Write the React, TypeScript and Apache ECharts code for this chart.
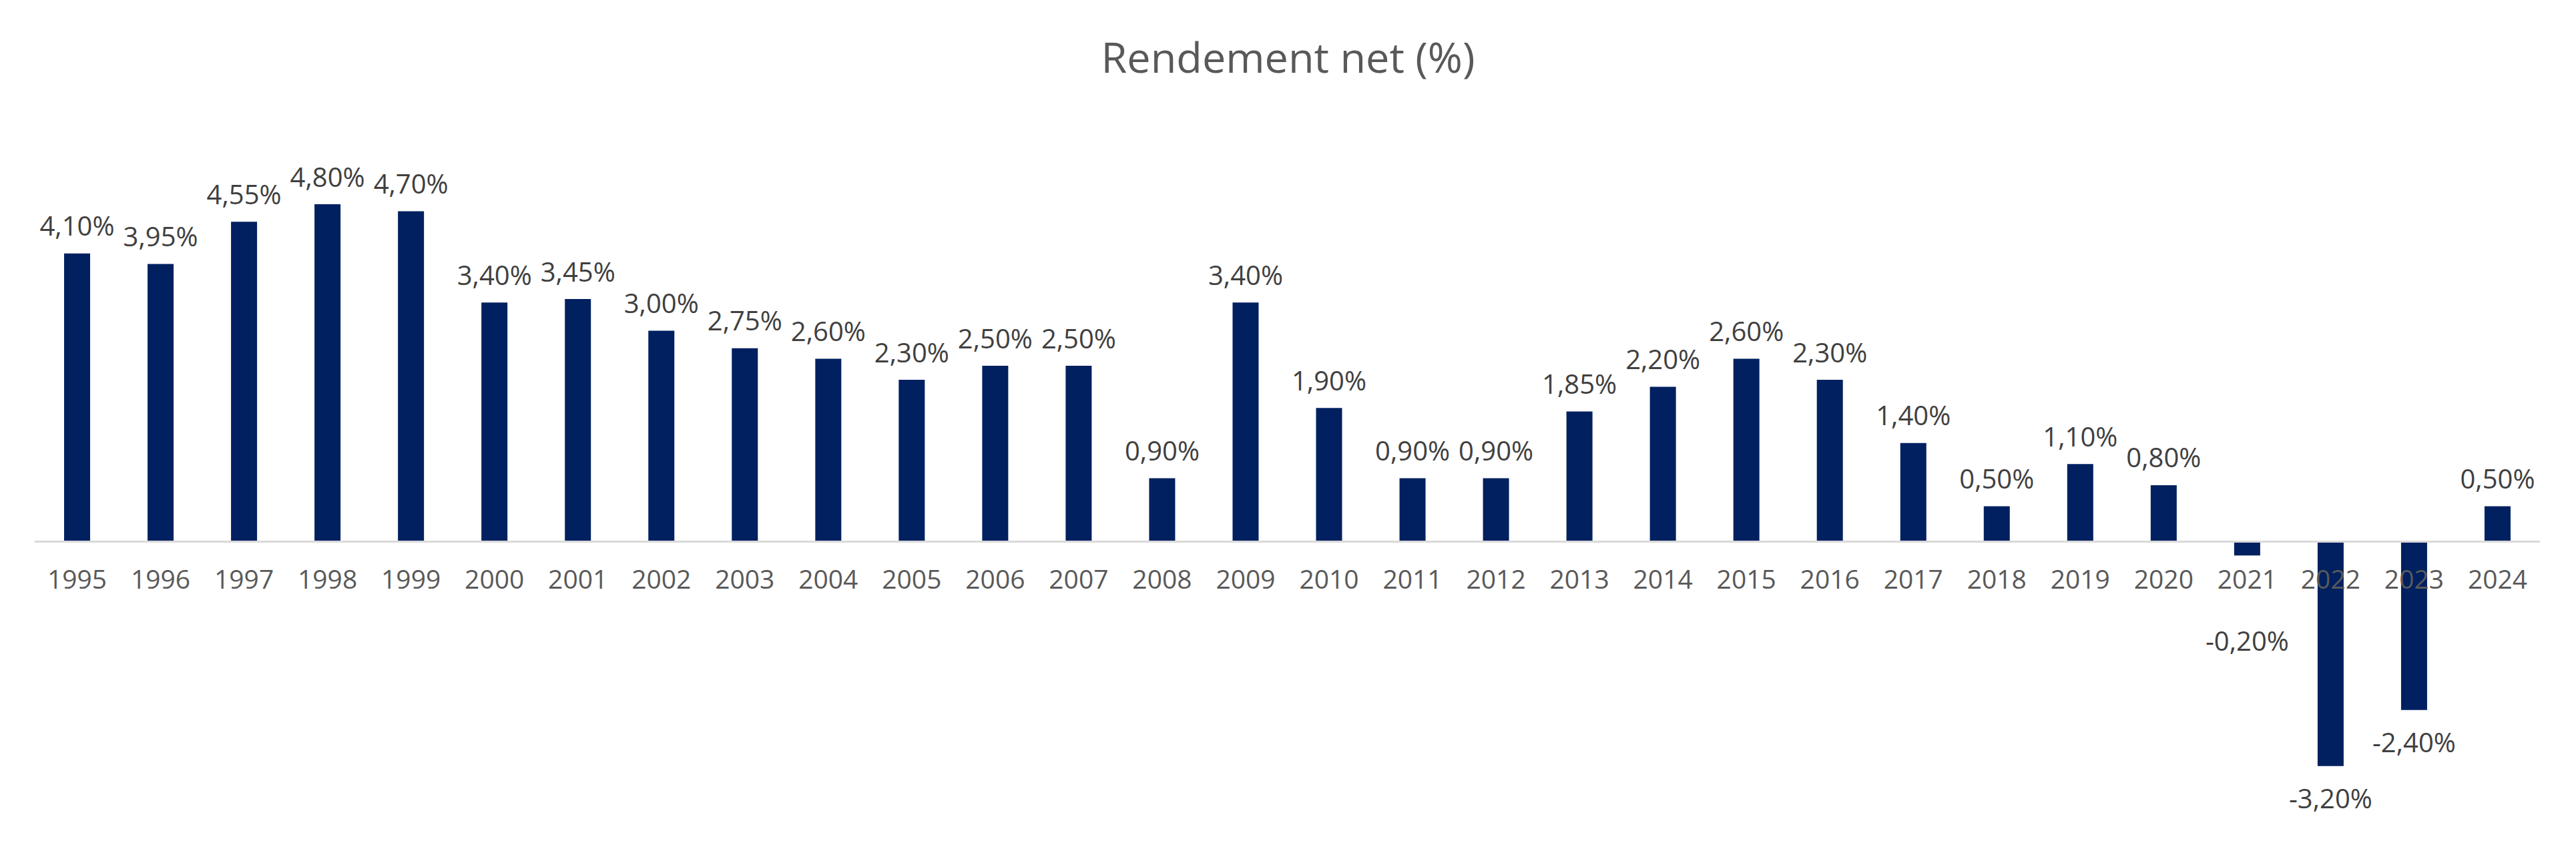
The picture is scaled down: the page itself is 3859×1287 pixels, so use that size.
import React, { useEffect, useRef } from "react";
import * as echarts from "echarts";

const title = "Rendement net (%)";
const years = [
  "1995", "1996", "1997", "1998", "1999", "2000", "2001", "2002", "2003", "2004",
  "2005", "2006", "2007", "2008", "2009", "2010", "2011", "2012", "2013", "2014",
  "2015", "2016", "2017", "2018", "2019", "2020", "2021", "2022", "2023", "2024",
];
const rendement = [
  4.1, 3.95, 4.55, 4.8, 4.7, 3.4, 3.45, 3.0, 2.75, 2.6,
  2.3, 2.5, 2.5, 0.9, 3.4, 1.9, 0.9, 0.9, 1.85, 2.2,
  2.6, 2.3, 1.4, 0.5, 1.1, 0.8, -0.2, -3.2, -2.4, 0.5,
];
// label moved down in the original to clear the axis label
const shiftedLabelYears = ["2021"];

const FONT = "Open Sans";
const Y_MIN = -4;
const Y_MAX = 5;
const GRID_TOP = 285;
const GRID_HEIGHT = 947;

const fmt = (v: number) => v.toFixed(2).replace(".", ",") + "%";

export default function App() {
  const ref = useRef<HTMLDivElement>(null);
  useEffect(() => {
    if (!ref.current) return;
    const chart = echarts.init(ref.current, undefined, { renderer: "svg" });
    const data = rendement.map((v, i) => {
      const item: any = { value: v };
      if (v < 0) {
        item.label = { position: "bottom", distance: 28 };
        if (shiftedLabelYears.includes(years[i])) {
          item.label.offset = [0, 79];
        }
      }
      return item;
    });
    // place the category axis at the zero line (labels included)
    const zeroFromBottom = (-Y_MIN / (Y_MAX - Y_MIN)) * GRID_HEIGHT;
    chart.setOption({
      animation: false,
      backgroundColor: "#ffffff",
      title: {
        text: title,
        left: "center",
        top: 48,
        textStyle: {
          fontFamily: FONT,
          fontSize: 63,
          fontWeight: "normal",
          color: "#595959",
        },
      },
      grid: { left: 53, right: 55, top: GRID_TOP, height: GRID_HEIGHT },
      xAxis: {
        type: "category",
        data: years,
        position: "bottom",
        offset: -zeroFromBottom,
        z: 5,
        axisLine: { onZero: false, lineStyle: { color: "#d9d9d9", width: 3 } },
        axisTick: { show: false },
        axisLabel: {
          fontFamily: FONT,
          fontSize: 39,
          color: "#595959",
          margin: 36,
          interval: 0,
        },
      },
      yAxis: {
        type: "value",
        min: Y_MIN,
        max: Y_MAX,
        show: false,
        splitLine: { show: false },
      },
      series: [
        {
          type: "bar",
          data,
          barWidth: 39,
          itemStyle: { color: "#002060" },
          label: {
            show: true,
            position: "top",
            distance: 22,
            fontFamily: FONT,
            fontSize: 40,
            color: "#404040",
            formatter: (p: any) => fmt(p.value),
          },
        },
      ],
    });
    return () => chart.dispose();
  }, []);
  return (
    <div
      ref={ref}
      style={{ position: "fixed", left: 0, top: 0, width: 3859, height: 1287 }}
    />
  );
}
